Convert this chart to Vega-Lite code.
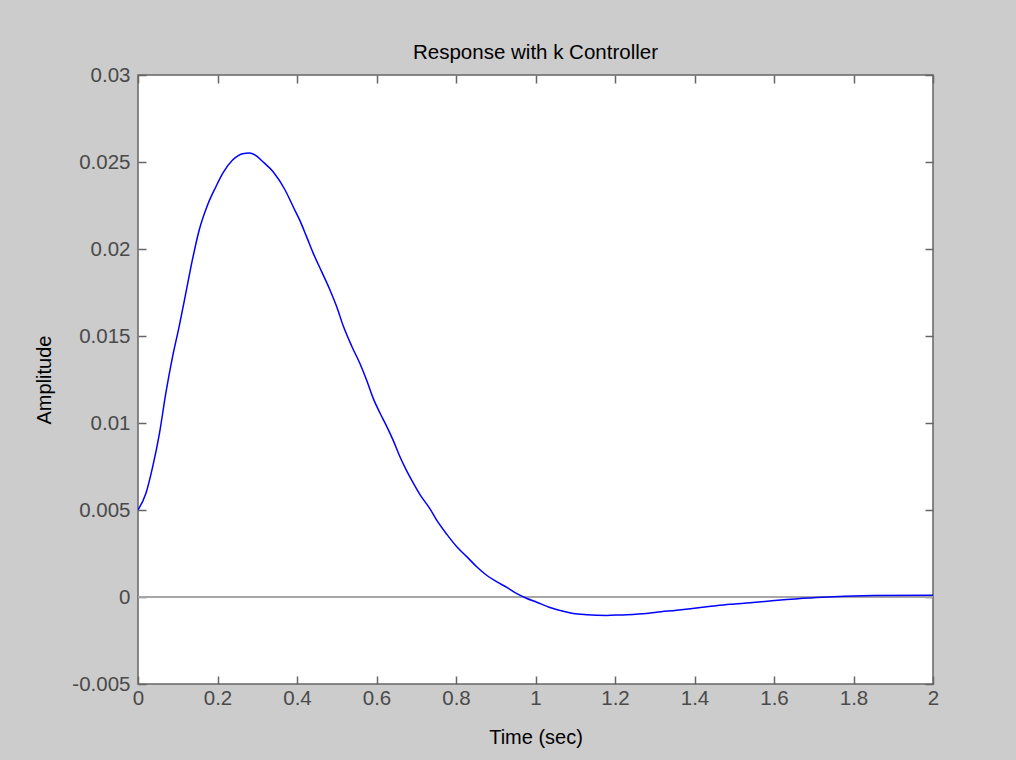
{
  "$schema": "https://vega.github.io/schema/vega-lite/v6.json",
  "autosize": "none",
  "width": 795,
  "height": 609,
  "padding": {"left": 138, "top": 75, "right": 83, "bottom": 76},
  "background": "#cccccc",
  "config": {
    "view": {"fill": "white", "stroke": "#666666", "strokeWidth": 1.5},
    "font": "Liberation Sans",
    "axis": {
      "grid": false,
      "domain": false,
      "tickColor": "#666666",
      "tickWidth": 1.5,
      "tickSize": -8,
      "labelFlush": false,
      "labelFont": "Liberation Sans",
      "labelFontSize": 20.5,
      "labelColor": "#4a4a4a",
      "titleFont": "Liberation Sans",
      "titleFontSize": 20,
      "titleFontWeight": "normal",
      "titleColor": "#000000"
    }
  },
  "title": {
    "text": "Response with k Controller",
    "font": "Liberation Sans",
    "fontSize": 20.5,
    "fontWeight": "normal",
    "color": "#000000",
    "anchor": "middle",
    "baseline": "alphabetic",
    "offset": -14
  },
  "data": {
    "values": [
      {"t": 0, "y": 0.005},
      {"t": 0.020, "y": 0.00596},
      {"t": 0.037, "y": 0.00749},
      {"t": 0.054, "y": 0.00941},
      {"t": 0.070, "y": 0.01171},
      {"t": 0.087, "y": 0.01381},
      {"t": 0.104, "y": 0.01560},
      {"t": 0.121, "y": 0.01755},
      {"t": 0.138, "y": 0.01950},
      {"t": 0.154, "y": 0.02109},
      {"t": 0.175, "y": 0.02253},
      {"t": 0.196, "y": 0.02358},
      {"t": 0.213, "y": 0.02435},
      {"t": 0.238, "y": 0.02511},
      {"t": 0.263, "y": 0.02548},
      {"t": 0.280, "y": 0.02552},
      {"t": 0.295, "y": 0.02540},
      {"t": 0.315, "y": 0.02500},
      {"t": 0.340, "y": 0.02444},
      {"t": 0.370, "y": 0.02339},
      {"t": 0.391, "y": 0.02240},
      {"t": 0.408, "y": 0.02160},
      {"t": 0.424, "y": 0.02071},
      {"t": 0.441, "y": 0.01975},
      {"t": 0.462, "y": 0.01870},
      {"t": 0.483, "y": 0.01764},
      {"t": 0.500, "y": 0.01668},
      {"t": 0.516, "y": 0.01560},
      {"t": 0.538, "y": 0.01440},
      {"t": 0.558, "y": 0.01343},
      {"t": 0.575, "y": 0.01247},
      {"t": 0.592, "y": 0.01140},
      {"t": 0.609, "y": 0.01056},
      {"t": 0.626, "y": 0.00979},
      {"t": 0.642, "y": 0.00900},
      {"t": 0.659, "y": 0.00806},
      {"t": 0.676, "y": 0.00725},
      {"t": 0.693, "y": 0.00653},
      {"t": 0.709, "y": 0.00590},
      {"t": 0.735, "y": 0.00505},
      {"t": 0.751, "y": 0.00443},
      {"t": 0.777, "y": 0.00360},
      {"t": 0.802, "y": 0.00289},
      {"t": 0.827, "y": 0.00232},
      {"t": 0.852, "y": 0.00174},
      {"t": 0.877, "y": 0.00125},
      {"t": 0.902, "y": 0.00088},
      {"t": 0.928, "y": 0.00055},
      {"t": 0.952, "y": 0.00021},
      {"t": 0.977, "y": -0.00007},
      {"t": 1.003, "y": -0.00030},
      {"t": 1.036, "y": -0.00060},
      {"t": 1.070, "y": -0.00082},
      {"t": 1.095, "y": -0.00095},
      {"t": 1.129, "y": -0.00102},
      {"t": 1.179, "y": -0.00106},
      {"t": 1.212, "y": -0.00103},
      {"t": 1.279, "y": -0.00095},
      {"t": 1.304, "y": -0.00088},
      {"t": 1.355, "y": -0.00076},
      {"t": 1.405, "y": -0.00063},
      {"t": 1.447, "y": -0.00052},
      {"t": 1.489, "y": -0.00042},
      {"t": 1.540, "y": -0.00033},
      {"t": 1.590, "y": -0.00023},
      {"t": 1.632, "y": -0.00015},
      {"t": 1.707, "y": -0.00003},
      {"t": 1.850, "y": 0.00008},
      {"t": 2.0, "y": 0.0001}
    ]
  },
  "resolve": {"axis": {"x": "independent", "y": "independent"}},
  "layer": [
    {
      "mark": {"type": "rule", "color": "#a6a6a6", "strokeWidth": 1.5},
      "encoding": {
        "x": {
          "datum": 0,
          "type": "quantitative",
          "scale": {"domain": [0, 2], "nice": false, "zero": false},
          "axis": {
            "orient": "bottom",
            "title": "Time (sec)",
            "values": [0, 0.2, 0.4, 0.6, 0.8, 1, 1.2, 1.4, 1.6, 1.8, 2],
            "format": "~g",
            "labelPadding": 12,
            "titlePadding": 19
          }
        },
        "x2": {"datum": 2},
        "y": {
          "datum": 0,
          "type": "quantitative",
          "scale": {"domain": [-0.005, 0.03], "nice": false, "zero": false},
          "axis": {
            "orient": "left",
            "title": "Amplitude",
            "values": [-0.005, 0, 0.005, 0.01, 0.015, 0.02, 0.025, 0.03],
            "labelExpr": "datum.value < 0 ? '-' + format(-datum.value, '~g') : format(datum.value, '~g')",
            "labelPadding": 16,
            "titlePadding": 17
          }
        }
      }
    },
    {
      "mark": {"type": "line", "color": "#0000ff", "strokeWidth": 1.5, "interpolate": "monotone", "clip": true},
      "encoding": {
        "x": {
          "field": "t",
          "type": "quantitative",
          "axis": {
            "orient": "top",
            "title": null,
            "labels": false,
            "values": [0, 0.2, 0.4, 0.6, 0.8, 1, 1.2, 1.4, 1.6, 1.8, 2]
          }
        },
        "y": {
          "field": "y",
          "type": "quantitative",
          "axis": {
            "orient": "right",
            "title": null,
            "labels": false,
            "values": [-0.005, 0, 0.005, 0.01, 0.015, 0.02, 0.025, 0.03]
          }
        }
      }
    }
  ]
}
